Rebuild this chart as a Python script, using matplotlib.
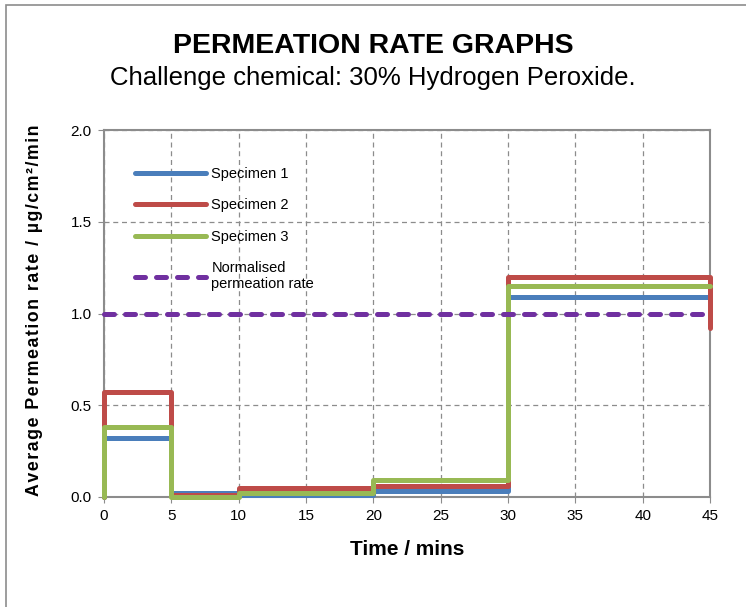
import numpy as np
import matplotlib.pyplot as plt
from matplotlib.patches import Rectangle

# ===============================
# DATA
# ===============================
edges = [0, 5, 10, 20, 30, 45]
spec1 = [0.32, 0.02, 0.01, 0.03, 1.09]
spec2 = [0.57, 0.01, 0.05, 0.06, 1.20]
spec3 = [0.38, 0.00, 0.02, 0.09, 1.15]
end_values = [1.09, 0.92, 1.15]
normalised = 1.0

labels = ["Specimen 1", "Specimen 2", "Specimen 3"]
colors = ["#4a7ebb", "#be4b48", "#98b954"]
x_ticks = [0, 5, 10, 15, 20, 25, 30, 35, 40, 45]
y_ticks = [0.0, 0.5, 1.0, 1.5, 2.0]
y_label = "Average Permeation rate / µg/cm²/min"


def step_xy(edges, rates, end):
    # steps that start at zero and drop to the end value at the last edge
    xs = [edges[0]]
    ys = [0.0]
    for i, r in enumerate(rates):
        xs += [edges[i], edges[i + 1]]
        ys += [r, r]
    xs.append(edges[-1])
    ys.append(end)
    return xs, ys


plt.rcParams["font.family"] = ["Liberation Sans", "DejaVu Sans"]

fig = plt.figure(figsize=(7.46, 6.07), dpi=100)
fig.patch.set_facecolor("white")

# chart frame
fig.patches.append(Rectangle((6 / 746, -0.1), 1.2, 1 - 5 / 607 + 0.1,
                             transform=fig.transFigure, fill=False,
                             edgecolor="#8c8c8c", linewidth=1.2))

ax = fig.add_axes([104 / 746, 1 - 497 / 607, 606 / 746, 367 / 607])

for rates, end, lab, c in zip([spec1, spec2, spec3], end_values, labels, colors):
    xs, ys = step_xy(edges, rates, end)
    ax.plot(xs, ys, color=c, linewidth=3.6, label=lab, clip_on=False,
            solid_joinstyle="round", solid_capstyle="round", zorder=3)

ax.plot([edges[0], edges[-1]], [normalised, normalised], color="#7030a0",
        linewidth=3.6, linestyle=(0, (2.0, 2.2)), dash_capstyle="round",
        label="Normalised\npermeation rate", clip_on=False, zorder=3)

ax.set_xlim(0, 45)
ax.set_ylim(0, 2.0)
ax.set_xticks(x_ticks)
ax.set_yticks(y_ticks)
ax.set_yticklabels([f"{v:.1f}" for v in y_ticks])
ax.tick_params(labelsize=11, color="#8c8c8c", length=4, direction="out",
               pad=5)
ax.grid(True, linestyle=(0, (4, 3)), color="#8c8c8c", linewidth=0.9)
ax.set_axisbelow(True)
for s in ax.spines.values():
    s.set_color("#8c8c8c")
    s.set_linewidth(1.5)

ax.set_xlabel("Time / mins", fontsize=15, fontweight="bold", labelpad=12)
# spaced out letters like the original
ax.set_ylabel("\u200a".join(y_label), fontsize=12.8, fontweight="bold")
ax.yaxis.set_label_coords(-0.1, 0.51)

leg = ax.legend(loc="upper left", bbox_to_anchor=(0.051, 0.90),
                frameon=False, fontsize=10.5, handlelength=4.9,
                labelspacing=1.2, handletextpad=0.35, borderpad=0,
                borderaxespad=0)

fig.text(0.5, 1 - 46 / 607, "PERMEATION RATE GRAPHS", ha="center",
         va="center", fontsize=20.5, fontweight="bold")
fig.text(0.5, 1 - 78 / 607, "Challenge chemical: 30% Hydrogen Peroxide.",
         ha="center", va="center", fontsize=18.5)

fig.savefig("out.png", dpi=100)
